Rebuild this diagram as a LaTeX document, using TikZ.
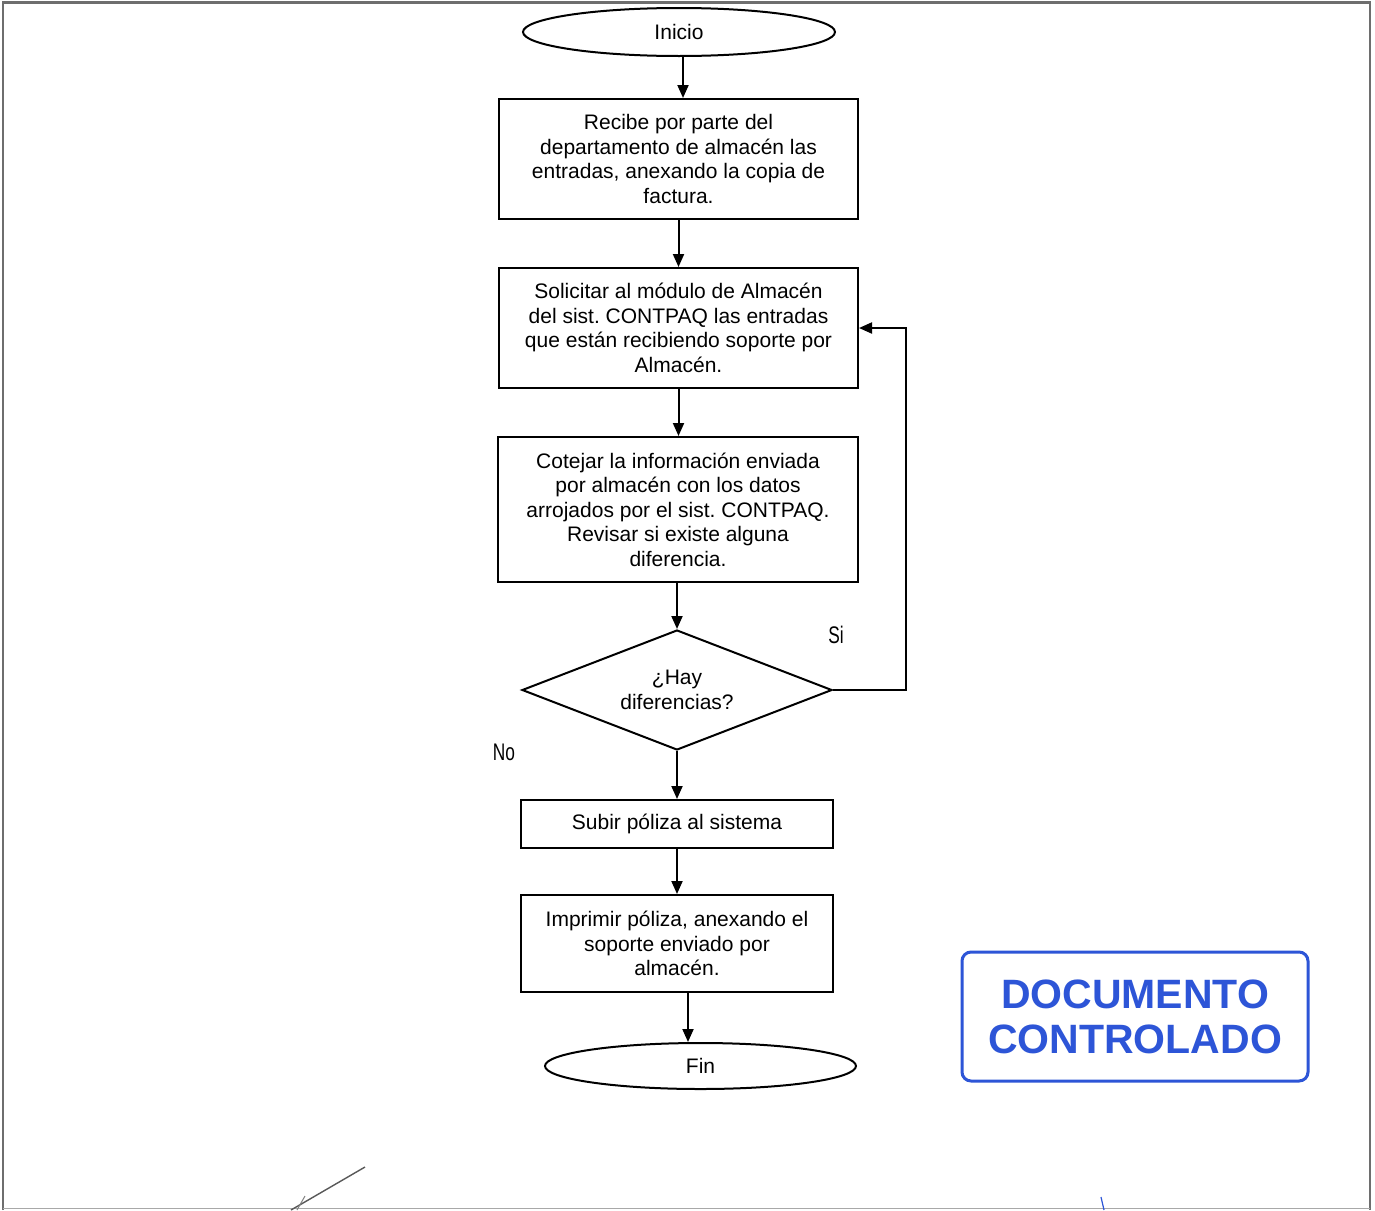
\documentclass[tikz,border=0pt]{standalone}
\usepackage{fontspec}
\setmainfont{Liberation Sans}
\usetikzlibrary{shapes.geometric,arrows.meta}
\definecolor{stampblue}{RGB}{45,85,215}
\definecolor{framegray}{RGB}{110,110,110}
\frenchspacing
\begin{document}
\begin{tikzpicture}[x=1pt,y=-1pt,
  box/.style={draw, line width=2, rectangle, align=center, inner sep=0pt, font=\fontsize{21}{24.5}\selectfont},
  term/.style={draw, line width=2, ellipse, inner sep=0pt, font=\fontsize{21}{24.5}\selectfont},
  decision/.style={draw, line width=2, diamond, inner sep=0pt},
  arr/.style={line width=2, -{Triangle[length=13pt,width=11pt]}},
  lbl/.style={font=\fontsize{24}{24}\selectfont, xscale=0.72, inner sep=0pt},
  stamp/.style={draw=stampblue, line width=3, rounded corners=9, text=stampblue, align=center,
     font=\bfseries\fontsize{41}{45}\selectfont, inner sep=0pt}
]
\useasboundingbox (0,0) rectangle (1375,1210);
\fill[white] (0,0) rectangle (1375,1210);
% frame
\draw[framegray, line width=1.6] (3,1210) -- (3,2) -- (1370,2) -- (1370,1210);
\draw[framegray, line width=3] (3,2) -- (1370,2);
\draw[framegray!60, line width=1.2] (3,1208.5) -- (1370,1208.5);

% nodes
\node[term, minimum width=312, minimum height=48] (inicio) at (679,32) {Inicio};
\node[box, minimum width=359, minimum height=120] (b1) at (678.5,159)
  {Recibe por parte del\\departamento de almacén las\\entradas, anexando la copia de\\factura.};
\node[box, minimum width=359, minimum height=120] (b2) at (678.5,328)
  {Solicitar al módulo de Almacén\\del sist. CONTPAQ las entradas\\que están recibiendo soporte por\\Almacén.};
\node[box, minimum width=360, minimum height=145] (b3) at (678,509.5)
  {Cotejar la información enviada\\por almacén con los datos\\arrojados por el sist. CONTPAQ.\\Revisar si existe alguna\\diferencia.};
\node[decision, minimum width=310, minimum height=120,
  label={[align=center, inner sep=0pt, font=\fontsize{21}{24.5}\selectfont]center:{¿Hay\\diferencias?}}]
  (dec) at (677,690) {};
\node[box, minimum width=312, minimum height=48] (b4) at (677,824)
  {Subir póliza al sistema};
\node[box, minimum width=312, minimum height=97] (b5) at (677,943.5)
  {Imprimir póliza, anexando el\\soporte enviado por\\almacén.};
\node[term, minimum width=311, minimum height=46] (fin) at (700.5,1066) {Fin};

\node[lbl] (si) at (836,635) {Si};
\node[lbl] (no) at (504,752) {No};

% connectors
\draw[arr] ([xshift=4]inicio.south) -- ([xshift=4]inicio.south |- b1.north);
\draw[arr] (b1.south) -- (b2.north);
\draw[arr] (b2.south) -- (b2.south |- b3.north);
\draw[arr] (b3.south -| dec.north) -- (dec.north);
\draw[arr] (dec.south) -- (b4.north);
\draw[arr] (b4.south) -- (b5.north);
\draw[arr] ([xshift=11]b5.south) -- ([xshift=11]b5.south |- fin.north);
\draw[arr] (dec.east) -- ++(73,0) |- (b2.east);

% stamp
\node[stamp, minimum width=346, minimum height=129] (stampbox) at (1135,1016.5)
  {DOCUMENTO\\CONTROLADO};

% marks at bottom
\draw[black!65, line width=1.4] (365,1167) -- (291,1210);
\draw[black!50, line width=1.0] (305,1196) -- (297,1210);
\draw[stampblue, line width=1.2] (1101,1197) -- (1104,1210);
\end{tikzpicture}
\end{document}
